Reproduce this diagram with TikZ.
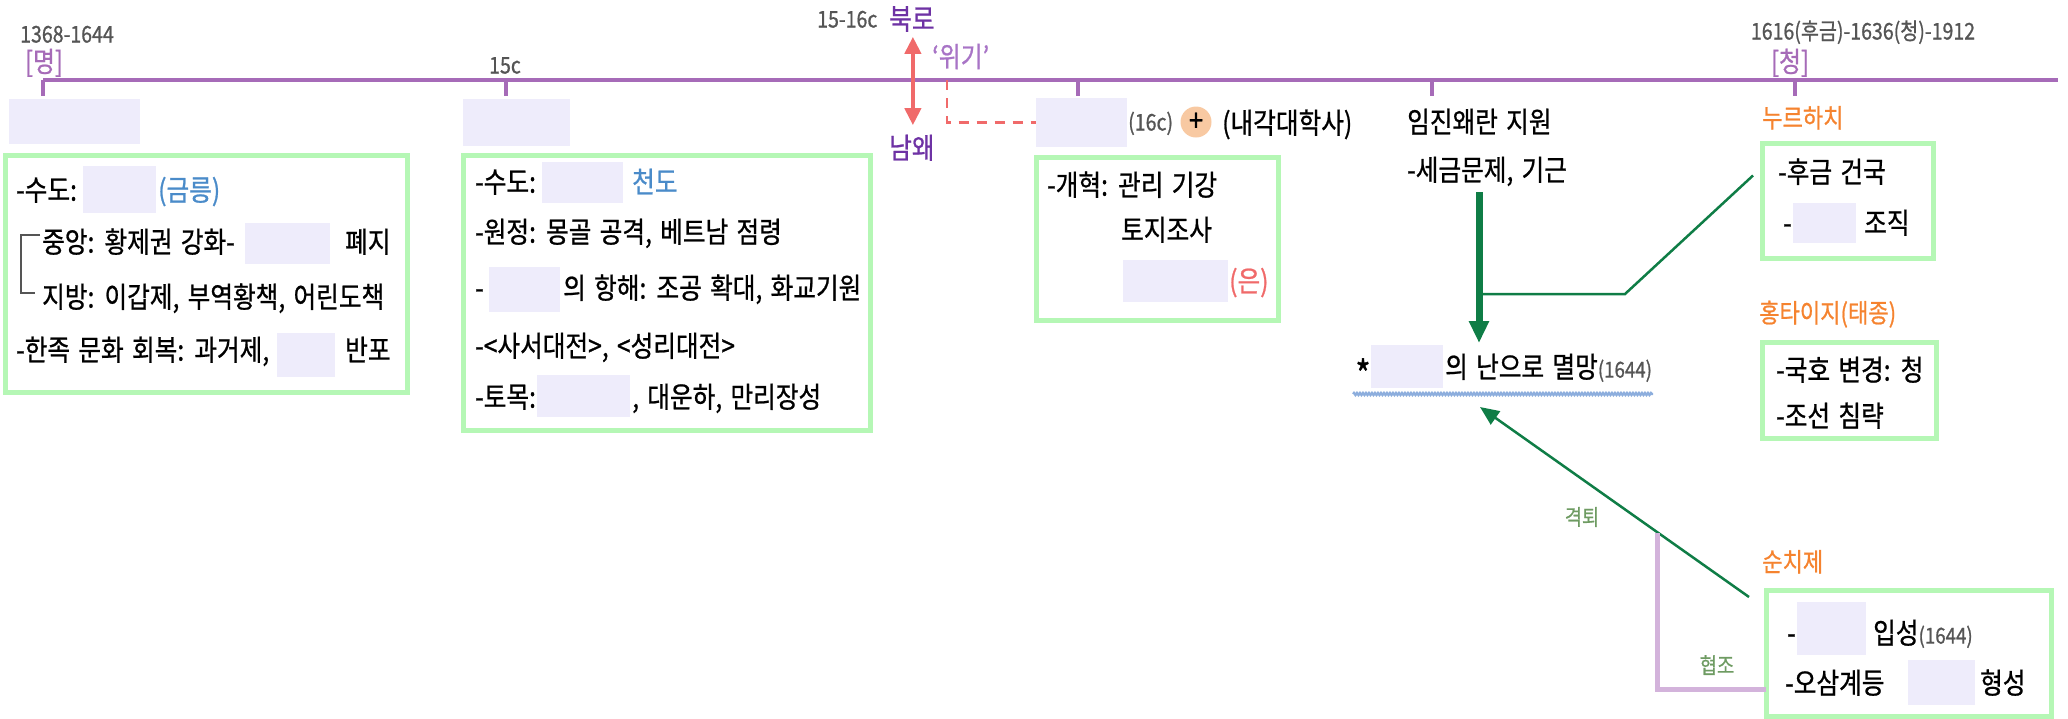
\documentclass[tikz,border=0pt]{standalone}
\usepackage{fontspec}
\setmainfont{Noto Sans CJK KR}[FakeStretch=0.85,FakeBold=0.8,WordSpace=1.5]
\usetikzlibrary{arrows.meta,calc,decorations.pathmorphing}

\definecolor{tlpurple}{HTML}{A66BB8}
\definecolor{darkpurple}{HTML}{6E32A4}
\definecolor{lightpurple}{HTML}{A874C6}
\definecolor{blankc}{HTML}{EEECFB}
\definecolor{framec}{HTML}{B5F7B5}
\definecolor{bluec}{HTML}{4A8BC9}
\definecolor{redc}{HTML}{F06A6A}
\definecolor{orangec}{HTML}{F5832F}
\definecolor{greenc}{HTML}{0F7D46}
\definecolor{grayc}{HTML}{555555}
\definecolor{peachc}{HTML}{F8C9A2}
\definecolor{coopc}{HTML}{D3B3DB}
\definecolor{labelc}{HTML}{6E9B62}
\definecolor{wavec}{HTML}{8DAEDD}

\begin{document}
\begin{tikzpicture}[x=1pt,y=-1pt,
    txt/.style={inner sep=0pt, anchor=west, font=\fontsize{29}{33}\selectfont, text height=23.2pt, text depth=2pt},
    datel/.style={inner sep=0pt, anchor=west, text=grayc, font=\fontsize{23}{26}\selectfont, text height=16pt, text depth=1pt},
    head/.style={inner sep=0pt, anchor=west, text=orangec, font=\fontsize{26}{30}\selectfont, text height=21pt, text depth=2pt},
    era/.style={inner sep=0pt, text=tlpurple, font=\fontsize{28}{32}\selectfont, text height=22pt, text depth=2pt},
    lbl/.style={inner sep=0pt, text=labelc, font=\fontsize{22}{26}\selectfont},
    frame/.style={draw=framec, line width=5pt, inner sep=0pt, outer sep=0pt, anchor=north west},
    blank/.style={fill=blankc, inner sep=0pt, outer sep=0pt, anchor=north west},
    tline/.style={draw=tlpurple, line width=4pt},
    redarr/.style={draw=redc, line width=4pt, {Triangle[width=16pt,length=17pt]}-{Triangle[width=16pt,length=17pt]}},
    dashl/.style={draw=redc, line width=2.5pt, dash pattern=on 10pt off 8pt},
    bigarr/.style={draw=greenc, line width=7pt, -{Triangle[width=19pt,length=22pt]}},
    thinl/.style={draw=greenc, line width=2.5pt},
    thinarr/.style={thinl, -{Triangle[width=16pt,length=19pt]}},
    coop/.style={draw=coopc, line width=5pt},
    wave/.style={draw=wavec, line width=2.4pt, decorate, decoration={snake, amplitude=1pt, segment length=3pt}}]

  \useasboundingbox (0,0) rectangle (2068,718);

  % timeline
  \coordinate (tl0) at (43,80);
  \coordinate (tl1) at (2058,80);
  \draw[tline] (tl0) -- (tl1);
  \foreach \x/\n in {43/ming,506/yongle,1078/zhang,1432/wanli,1795/qing}
    \draw[tline] (\x,80) coordinate (tk-\n) -- ++(0,16);

  \node[datel] (d1) at (20,35) {1368-1644};
  \node[era] (ming) at (44,62) {[명]};
  \node[datel, anchor=center] (d2) at (505,66) {15c};
  \node[datel] (d3) at (817,20) {15-16c};
  \node[txt, text=darkpurple] (bukro) at (889,19) {북로};
  \node[txt, text=darkpurple] (namwae) at (889,148) {남왜};
  \node[era, anchor=west, text=lightpurple] (crisis) at (932,57) {‘위기’};
  \node[datel, anchor=center] (d4) at (1863,32) {1616(후금)-1636(청)-1912};
  \node[era] (qing) at (1790,62) {[청]};

  \draw[redarr] ($(bukro.south)+(1,5)$) -- ($(namwae.north)+(1,-10)$);

  % blanks
  \begin{scope}[every node/.style={blank}]
    \node[minimum width=131, minimum height=45] (b1)  at (9,99) {};
    \node[minimum width=73,  minimum height=47] (b2)  at (83,166) {};
    \node[minimum width=85,  minimum height=41] (b3)  at (245,223) {};
    \node[minimum width=58,  minimum height=44] (b4)  at (277,333) {};
    \node[minimum width=107, minimum height=47] (b5)  at (463,99) {};
    \node[minimum width=81,  minimum height=41] (b6)  at (542,162) {};
    \node[minimum width=71,  minimum height=45] (b7)  at (489,267) {};
    \node[minimum width=93,  minimum height=42] (b8)  at (537,375) {};
    \node[minimum width=91,  minimum height=49] (b9)  at (1036,98) {};
    \node[minimum width=105, minimum height=42] (b10) at (1123,260) {};
    \node[minimum width=72,  minimum height=43] (b11) at (1371,345) {};
    \node[minimum width=63,  minimum height=40] (b12) at (1793,203) {};
    \node[minimum width=69,  minimum height=53] (b13) at (1797,602) {};
    \node[minimum width=67,  minimum height=45] (b14) at (1908,660) {};
  \end{scope}

  % frames
  \begin{scope}[every node/.style={frame}]
    \node[minimum width=402, minimum height=237] (boxA) at (5,155) {};
    \node[minimum width=407, minimum height=275] (boxB) at (463,155) {};
    \node[minimum width=242, minimum height=163] (boxC) at (1036,157) {};
    \node[minimum width=171, minimum height=115] (boxD) at (1762,143) {};
    \node[minimum width=174, minimum height=96]  (boxE) at (1762,342) {};
    \node[minimum width=285, minimum height=126] (boxF) at (1766,590) {};
  \end{scope}

  \begin{scope}[every node/.style={txt}]
    \node (a1) at (16,190) {-수도:};
    \node[text=bluec] (a1b) at (158,190) {(금릉)};
    \node (jung) at (42,242) {중앙: 황제권 강화-};
    \node (a2b) at (345,242) {폐지};
    \node (jibang) at (42,297) {지방: 이갑제, 부역황책, 어린도책};
    \node (a4) at (16,350) {-한족 문화 회복: 과거제,};
    \node (a4b) at (345,350) {반포};

    \node (c1) at (475,182) {-수도:};
    \node[text=bluec] (c1b) at (632,182) {천도};
    \node (c2) at (475,232) {-원정: 몽골 공격, 베트남 점령};
    \node (c3) at (475,288) {-};
    \node (c3b) at (563,288) {의 항해: 조공 확대, 화교기원};
    \node (c4) at (475,346) {-<사서대전>, <성리대전>};
    \node (c5) at (475,397) {-토목:};
    \node (c5b) at (632,397) {, 대운하, 만리장성};

    \node (g1) at (1047,185) {-개혁: 관리 기강};
    \node (g2) at (1121,230) {토지조사};
    \node[text=redc] (g3) at (1229,281) {(은)};
    \node (cab) at (1222,123) {(내각대학사)};

    \node (im1) at (1407,122) {임진왜란 지원};
    \node (im2) at (1407,170) {-세금문제, 기근};
    \node[anchor=center, font=\fontsize{38}{40}\selectfont] (star) at (1363,378) {*};
    \node (fall) at (1445,367) {의 난으로 멸망{\color{grayc}\fontsize{22}{26}\selectfont(1644)}};

    \node (n1) at (1778,172) {-후금 건국};
    \node (n2) at (1783,223) {-};
    \node (n2b) at (1864,223) {조직};
    \node (h1) at (1776,370) {-국호 변경: 청};
    \node (h2) at (1776,416) {-조선 침략};
    \node (s1) at (1787,633) {-};
    \node (s1b) at (1873,633) {입성{\color{grayc}\fontsize{22}{26}\selectfont(1644)}};
    \node (s2) at (1785,683) {-오삼계등};
    \node (s2b) at (1980,683) {형성};
  \end{scope}

  \node[datel] (c16) at (1128,123) {(16c)};
  \node[circle, fill=peachc, minimum size=31pt, inner sep=0pt, font=\fontsize{30}{30}\selectfont] (plus) at (1196,122) {+};

  \node[head] (nur) at (1762,118) {누르하치};
  \node[head] (hong) at (1759,313) {홍타이지(태종)};
  \node[head] (sun) at (1762,562) {순치제};

  \node[lbl] (gyeok) at (1582,517) {격퇴};
  \node[lbl] (hyeop) at (1717,665) {협조};

  % bracket
  \draw[grayc, line width=1.2pt] ($(jung.west)+(-2,-7)$) -- ++(-19,0) |- ($(jibang.west)+(-7,-4)$);

  % connectors
  \coordinate (dash0) at (947,80);
  \draw[dashl] (dash0) |- (b9.west);

  \coordinate (ar0) at (1479,192);
  \coordinate (fallTop) at (1479,343);
  \draw[bigarr] (ar0) -- (fallTop);

  \coordinate (br0) at (1479,294);
  \coordinate (br1) at (1625,294);
  \draw[thinl] (br0) -- (br1) -- ($(boxD.west)+(-9,-25)$);

  \coordinate (ul0) at (1353,394);
  \coordinate (ul1) at (1653,394);
  \draw[wave] (ul0) -- (ul1);

  \coordinate (fallBot) at (1480,407);
  \draw[thinarr] ($(boxF.north west)+(-17,7)$) -- (fallBot);

  \coordinate (cp0) at (1657,533);
  \draw[coop] (cp0) |- ($(boxF.west)+(0,36)$);

\end{tikzpicture}
\end{document}
